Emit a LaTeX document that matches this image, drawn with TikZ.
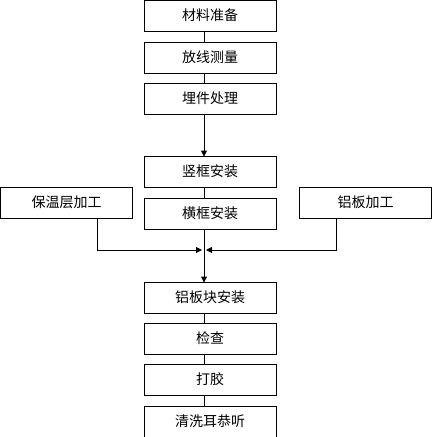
\documentclass[tikz,border=0pt]{standalone}
\usepackage{fontspec}
\setmainfont{Noto Sans CJK SC}
\usetikzlibrary{arrows.meta,positioning,calc}

\begin{document}
\begin{tikzpicture}[
  x=1pt, y=-1pt,
  >={Triangle[length=6pt,width=6pt]},
  every node/.style={font=\fontsize{14}{16}\selectfont},
  stepbox/.style={draw, line width=1pt, minimum width=132pt,
                  minimum height=31pt, inner sep=0pt, outer sep=0pt,
                  text height=11pt, text depth=2pt},
  link/.style={draw, line width=1pt}
]
\useasboundingbox (0,0) rectangle (432,437);
%% main column
\node[stepbox] (prep) at (210,16) {材料准备};
\node[stepbox, below=11pt of prep] (survey) {放线测量};
\node[stepbox, below=10pt of survey] (embed) {埋件处理};
\node[stepbox, below=42pt of embed] (mullion) {竖框安装};
\node[stepbox, below=11pt of mullion] (transom) {横框安装};
\node[stepbox, below=53pt of transom] (panel) {铝板块安装};
\node[stepbox, below=10pt of panel] (check) {检查};
\node[stepbox, below=10pt of check] (seal) {打胶};
\node[stepbox, below=11pt of seal] (clean) {清洗耳恭听};
%% side boxes
\node[stepbox] (insul) at (66.5,202.5) {保温层加工};
\node[stepbox] (alum) at (365.5,202.5) {铝板加工};
%% connectors
\coordinate (spine) at (204,0);
\coordinate (merge) at (204,250);
\draw[link] (prep.south -| spine) -- (survey.north -| spine);
\draw[link] (survey.south -| spine) -- (embed.north -| spine);
\draw[link, ->] (embed.south -| spine) -- (mullion.north -| spine);
\draw[link] (mullion.south -| spine) -- (transom.north -| spine);
\draw[link, ->] (transom.south -| spine) -- (panel.north -| spine);
\draw[link] (panel.south -| spine) -- (check.north -| spine);
\draw[link] (check.south -| spine) -- (seal.north -| spine);
\draw[link] (seal.south -| spine) -- (clean.north -| spine);
%% merge arrows
\draw[link, ->, shorten >=2pt] ($(insul.south)+(30.5,0)$) |- (merge);
\draw[link, ->, shorten >=2pt] ($(alum.south)+(-29.5,0)$) |- (merge);
\end{tikzpicture}
\end{document}
